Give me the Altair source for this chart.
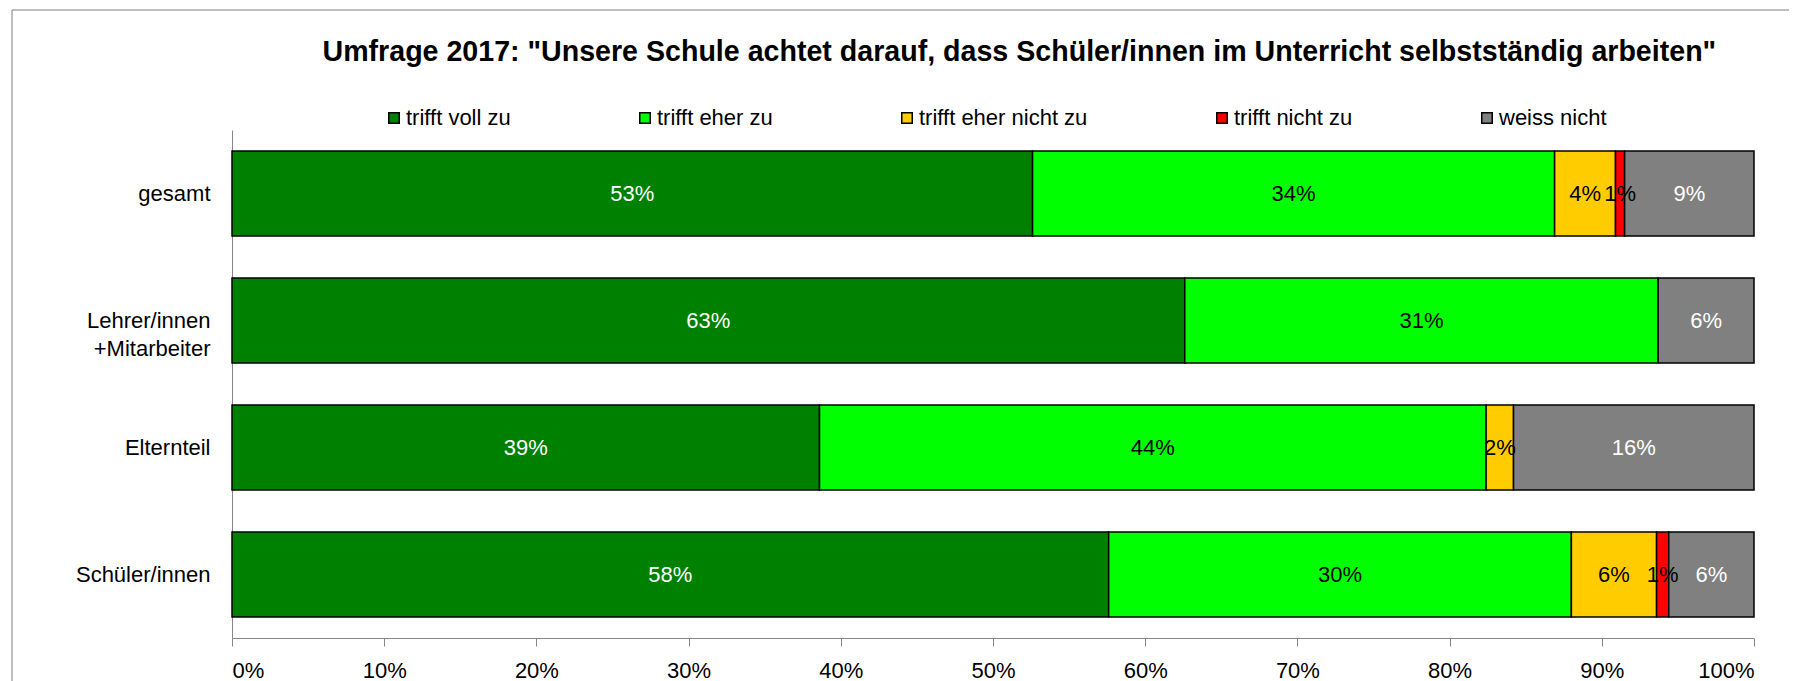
import altair as alt
import pandas as pd

# ---- data ----
groups = ["gesamt", "Lehrer/innen\n+Mitarbeiter", "Elternteil", "Schüler/innen"]
categories = ["trifft voll zu", "trifft eher zu", "trifft eher nicht zu", "trifft nicht zu", "weiss nicht"]
voll_zu = [0.526, 0.626, 0.386, 0.576]
eher_zu = [0.343, 0.311, 0.438, 0.304]
eher_nicht_zu = [0.040, 0.0, 0.018, 0.056]
nicht_zu = [0.006, 0.0, 0.0, 0.008]
weiss_nicht = [0.085, 0.063, 0.158, 0.056]
x_ticks = [0.0, 0.1, 0.2, 0.3, 0.4, 0.5, 0.6, 0.7, 0.8, 0.9, 1.0]
title_text = 'Umfrage 2017: "Unsere Schule achtet darauf, dass Schüler/innen im Unterricht selbstständig arbeiten"'

# ---- style ----
colors = ["#008000", "#00FF00", "#FFCC00", "#FF0000", "#808080"]
FONT = "Liberation Sans"
AXIS_GREY = "#868686"

series = [voll_zu, eher_zu, eher_nicht_zu, nicht_zu, weiss_nicht]
rows = []
for ci, (cat, vals) in enumerate(zip(categories, series)):
    for g, v in zip(groups, vals):
        rows.append({"group": g, "category": cat, "order": ci, "value": v})
df = pd.DataFrame(rows)

base = (
    alt.Chart(df)
    .transform_filter("datum.value > 0")
    .transform_stack(stack="value", groupby=["group"], sort=[alt.SortField("order")], as_=["v0", "v1"])
)

y_enc = alt.Y(
    "group:N",
    sort=groups,
    scale=alt.Scale(paddingInner=0.33, paddingOuter=0.165),
    axis=alt.Axis(
        title=None,
        ticks=False,
        labelPadding=22,
        labelLineHeight=28,
        labelExpr="split(datum.label, '\\n')",
        domainColor=AXIS_GREY,
        labelFontSize=22,
    ),
)

bars = base.mark_bar(stroke="black", strokeWidth=1.5).encode(
    y=y_enc,
    x=alt.X(
        "v0:Q",
        scale=alt.Scale(domain=[0, 1], nice=False),
        axis=alt.Axis(
            title=None,
            format=".0%",
            values=x_ticks,
            tickSize=8,
            labelPadding=14,
            domainColor=AXIS_GREY,
            tickColor=AXIS_GREY,
            grid=False,
            labelFontSize=22,
        ),
    ),
    x2="v1:Q",
    color=alt.Color(
        "category:N",
        scale=alt.Scale(domain=categories, range=colors),
        legend=alt.Legend(
            title=None,
            orient="none",
            legendX=151,
            legendY=-23,
            direction="horizontal",
            columns=5,
            columnPadding=123,
            labelFontSize=22,
            labelFont=FONT,
            labelOffset=1,
            labelLimit=300,
            symbolType="square",
            symbolSize=110,
            symbolStrokeColor="black",
            symbolStrokeWidth=1.5,
        ),
    ),
)

labels = (
    base.transform_calculate(mid="(datum.v0 + datum.v1) / 2")
    .mark_text(font=FONT, fontSize=22)
    .encode(
        y=alt.Y("group:N", sort=groups),
        x=alt.X("mid:Q"),
        text=alt.Text("value:Q", format=".0%"),
        color=alt.condition(
            "datum.category == 'trifft voll zu' || datum.category == 'weiss nicht'",
            alt.value("white"),
            alt.value("black"),
        ),
    )
)

frame = (
    alt.Chart(pd.DataFrame({"f": [0]}))
    .mark_rect(fill="transparent", stroke="#7f7f7f", strokeWidth=1)
    .encode(x=alt.value(-220), x2=alt.value(1558), y=alt.value(-120), y2=alt.value(620))
)

chart = (
    alt.layer(frame, bars, labels)
    .properties(
        width=1522,
        height=508,
        padding={"left": 224, "top": 122, "right": 35, "bottom": 50},
        autosize=alt.AutoSizeParams(type="none"),
        title=alt.Title(
            title_text,
            font=FONT,
            fontSize=28.6,
            fontWeight="bold",
            anchor="start",
            dx=311,
            dy=57,
            offset=0,
            color="black",
        ),
    )
    .configure_view(strokeWidth=0)
    .configure_axis(labelFont=FONT, labelColor="black", grid=False)
)

chart.save("out.html", embed_options={"renderer": "svg", "actions": False})
